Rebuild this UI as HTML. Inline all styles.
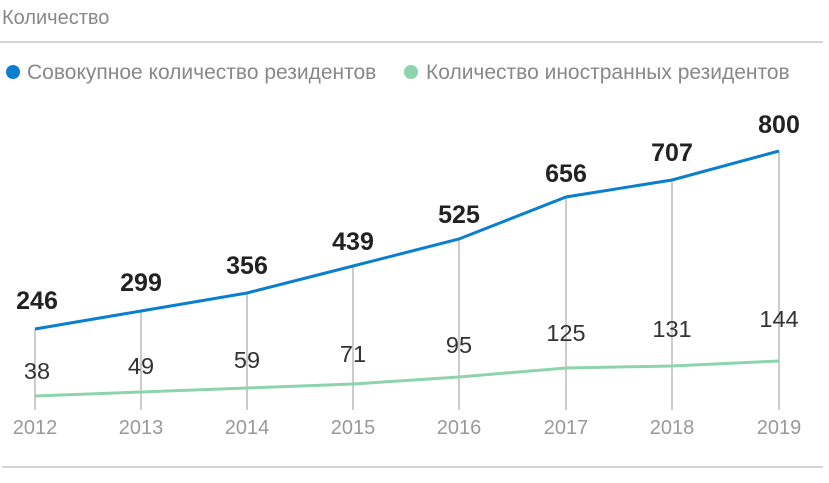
<!DOCTYPE html><html><head><style>body{margin:0;background:#fff}svg{display:block;font-family:"Liberation Sans",sans-serif}</style></head><body>
<svg width="829" height="483" viewBox="0 0 829 483">
<text x="2" y="24" font-size="20" fill="#888">Количество</text>
<line x1="0" y1="42" x2="823" y2="42" stroke="#aaa" stroke-width="1"/>
<circle cx="13" cy="72" r="7" fill="#0a7fcf"/>
<text x="27" y="79" font-size="21" fill="#888">Совокупное количество резидентов</text>
<circle cx="411" cy="72" r="7" fill="#8dd4ac"/>
<text x="426" y="79" font-size="21" fill="#888">Количество иностранных резидентов</text>
<g stroke="#999" stroke-width="1">
<line x1="35" y1="329" x2="35" y2="410"/><line x1="141" y1="311" x2="141" y2="410"/><line x1="247" y1="293" x2="247" y2="410"/><line x1="353" y1="266" x2="353" y2="410"/><line x1="459" y1="239" x2="459" y2="410"/><line x1="566" y1="197" x2="566" y2="410"/><line x1="672" y1="180" x2="672" y2="410"/><line x1="779" y1="151" x2="779" y2="410"/>
</g>
<polyline fill="none" stroke="#0a7fcf" stroke-width="3" points="35,329 141,311 247,293 353,266 459,239 566,197 672,180 779,151"/>
<polyline fill="none" stroke="#8dd4ac" stroke-width="3" points="35,396 141,392 247,388 353,384 459,377 566,368 672,366 779,361"/>
<g font-size="25" font-weight="bold" fill="#222" text-anchor="middle">
<text x="37" y="309">246</text><text x="141" y="291">299</text><text x="247" y="274">356</text><text x="353" y="250">439</text><text x="459" y="223">525</text><text x="566" y="182">656</text><text x="672" y="161">707</text><text x="779" y="133">800</text>
</g>
<g font-size="23.5" fill="#333" text-anchor="middle">
<text x="37" y="379">38</text><text x="141" y="374">49</text><text x="247" y="368">59</text><text x="353" y="362">71</text><text x="459" y="353">95</text><text x="566" y="341">125</text><text x="672" y="337">131</text><text x="779" y="327">144</text>
</g>
<g font-size="20" fill="#999" text-anchor="middle">
<text x="35" y="434">2012</text><text x="141" y="434">2013</text><text x="247" y="434">2014</text><text x="353" y="434">2015</text><text x="459" y="434">2016</text><text x="566" y="434">2017</text><text x="672" y="434">2018</text><text x="779" y="434">2019</text>
</g>
<line x1="2" y1="467" x2="823" y2="467" stroke="#aaa" stroke-width="1"/>
</svg></body></html>
